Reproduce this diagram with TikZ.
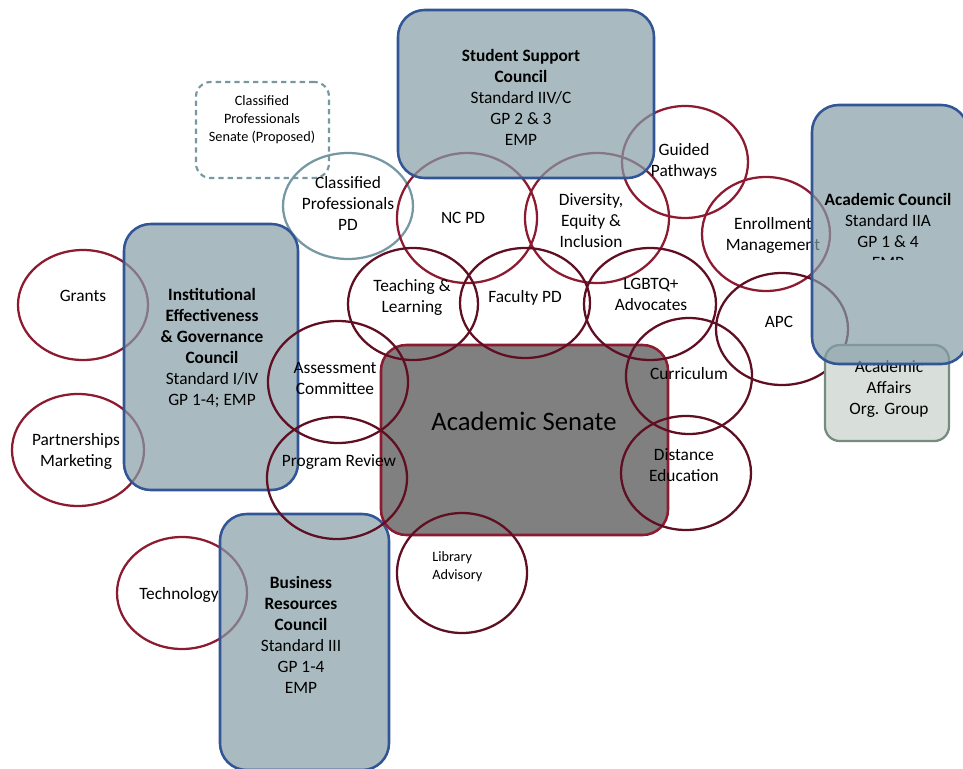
\documentclass[tikz,border=0pt]{standalone}
\usepackage{fontspec}
\setmainfont{Carlito}
\usepackage{tikz}
\usetikzlibrary{shapes.geometric}
\definecolor{councilblue}{RGB}{50,85,150}
\definecolor{councilfill}{RGB}{133,158,167}
\definecolor{ringred}{RGB}{140,26,48}
\definecolor{ringdark}{RGB}{96,14,34}
\definecolor{ringteal}{RGB}{118,152,163}
\definecolor{senatefill}{RGB}{128,128,128}
\definecolor{affairsfill}{RGB}{216,222,218}
\definecolor{affairsline}{RGB}{118,140,126}
\tikzset{
	every node/.style={align=center, inner sep=0pt},
	council/.style={draw=councilblue, line width=1.9pt, fill=councilfill, fill opacity=0.7, rounded corners=20pt},
	senate/.style={draw=ringred, line width=1.9pt, fill=senatefill, rounded corners=19pt},
	affairs/.style={draw=affairsline, line width=1.7pt, fill=affairsfill, rounded corners=11pt},
	proposed/.style={draw=ringteal, line width=1.6pt, dash pattern=on 4pt off 3pt, rounded corners=11pt},
	oval/.style 2 args={ellipse, minimum width=#1pt, minimum height=#2pt, line width=1.7pt},
	redring/.style={draw=ringred},
	darkring/.style={draw=ringdark},
	tealring/.style={draw=ringteal},
	small/.style={font=\fontsize{10.7}{13.5}\selectfont},
	big/.style={font=\fontsize{20}{24}\selectfont},
}

\begin{document}
\begin{tikzpicture}[x=0.75pt, y=-0.75pt, font=\fontsize{13}{15.75}\selectfont]
	\useasboundingbox (0,0) rectangle (963,768);
	
	% proposed senate
	\node[proposed, minimum width=99.75pt, minimum height=72pt] (CPS) at (262.5,130) {};
	\node[small] (CPSt) at (262,120) {Classified\\Professionals\\Senate (Proposed)};
	
	% outer rings
	\node[redring, oval={97.5}{82.5}] (GRANTS) at (83,305) {};
	\node (GRANTSt) at (83,295.5) {Grants};
	\node[redring, oval={99}{84}] (PARTNER) at (78,450) {};
	\node (PARTNERt) at (76,451) {Partnerships\\Marketing};
	\node[redring, oval={97.5}{84}] (TECH) at (182,593) {};
	\node (TECHt) at (179,594.5) {Technology};
	\node[tealring, oval={97.5}{79.5}] (CPPD) at (348,206) {};
	\node (CPPDt) at (348,203) {Classified\\Professionals\\PD};
	\node[redring, oval={105}{97.5}] (NCPD) at (467,218) {};
	\node (NCPDt) at (463,217.5) {NC PD};
	\node[redring, oval={108}{97.5}] (DEI) at (597,218) {};
	\node (DEIt) at (591,220.5) {Diversity,\\Equity \&\\Inclusion};
	\node[redring, oval={94.5}{84}] (GUIDED) at (685,162) {};
	\node (GUIDEDt) at (684,161.5) {Guided\\Pathways};
	\node[redring, oval={96}{85.5}] (ENROLL) at (766,234) {};
	\node (ENROLLt) at (773,235.5) {Enrollment\\Management};
	\node[darkring, oval={99}{84}] (APC) at (782,329) {};
	\node (APCt) at (779,321.5) {APC};
	
	% academic affairs
	\node[affairs, minimum width=93pt, minimum height=72pt] (AFFAIRS) at (887,393) {};
	\node (AFFAIRSt) at (889,389) {Academic\\Affairs\\Org. Group};
	
	% councils
	\node[council, minimum width=192pt, minimum height=126pt] (SSC) at (526,94) {};
	\node (SSCt) at (521,97.5) {\textbf{Student Support}\\\textbf{Council}\\Standard IIV/C\\GP 2 \& 3\\EMP};
	\node[council, minimum width=130.5pt, minimum height=199.5pt] (IEGC) at (211,357) {};
	\node (IEGCt) at (212,348) {\textbf{Institutional}\\\textbf{Effectiveness}\\\textbf{\& Governance}\\\textbf{Council}\\Standard I/IV\\GP 1-4; EMP};
	\node[council, minimum width=126.75pt, minimum height=192pt] (BRC) at (304.5,642) {};
	\node (BRCt) at (301,635) {\textbf{Business}\\\textbf{Resources}\\\textbf{Council}\\Standard III\\GP 1-4\\EMP};
	\node[council, minimum width=117pt, minimum height=194.25pt] (AC) at (890,234.5) {};
	\begin{scope}
		\clip (800,100) rectangle (963,259);
		\node (ACt) at (888,231) {\textbf{Academic Council}\\Standard IIA\\GP 1 \& 4\\EMP};
	\end{scope}
	
	% senate
	\node[senate, minimum width=215.25pt, minimum height=142.5pt] (SENATE) at (524.5,440) {};
	\node[big] (SENATEt) at (524,421) {Academic Senate};
	
	% inner rings
	\node[darkring, oval={97.5}{84}] (TEACH) at (413,304) {};
	\node (TEACHt) at (412,297) {Teaching \&\\Learning};
	\node[darkring, oval={97.5}{82.5}] (FACPD) at (525,303) {};
	\node (FACPDt) at (525,297.5) {Faculty PD};
	\node[darkring, oval={99}{84}] (LGBTQ) at (650,304) {};
	\node (LGBTQt) at (651,294) {LGBTQ+\\Advocates};
	\node[darkring, oval={105}{91.5}] (ASSESS) at (338,382) {};
	\node (ASSESSt) at (335,378.5) {Assessment\\Committee};
	\node[darkring, oval={105}{91.5}] (PROGREV) at (337,478) {};
	\node (PROGREVt) at (339,462.5) {Program Review};
	\node[darkring, oval={94.5}{87}] (CURRIC) at (689,376) {};
	\node (CURRICt) at (689,373.5) {Curriculum};
	\node[darkring, oval={97.5}{85.5}] (DISTED) at (686,473) {};
	\node (DISTEDt) at (684,465) {Distance\\Education};
	\node[darkring, oval={97.5}{90}] (LIBRARY) at (462,573) {};
	\node[small, align=left, anchor=west] (LIBRARYt) at (432,567) {Library\\Advisory};
\end{tikzpicture}
\end{document}
